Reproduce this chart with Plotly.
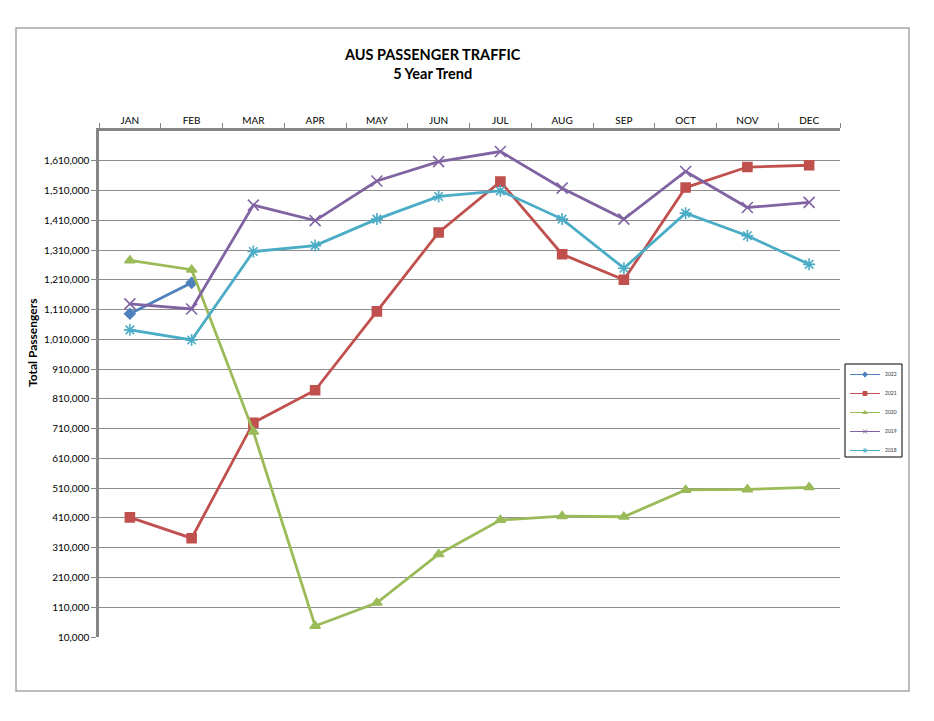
import plotly.graph_objects as go

# data
months = ["JAN", "FEB", "MAR", "APR", "MAY", "JUN",
          "JUL", "AUG", "SEP", "OCT", "NOV", "DEC"]

y2022 = [1096000, 1200000]
y2021 = [412000, 342000, 730000, 839000, 1104000, 1369000,
         1540000, 1296000, 1210000, 1520000, 1589000, 1595000]
y2020 = [1275000, 1244000, 700000, 47000, 125000, 288000,
         403000, 416000, 414000, 504000, 506000, 513000]
y2019 = [1129000, 1112000, 1461000, 1409000, 1542000, 1607000,
         1641000, 1518000, 1414000, 1574000, 1453000, 1470000]
y2018 = [1042000, 1008000, 1305000, 1325000, 1414000, 1490000,
         1509000, 1414000, 1249000, 1434000, 1358000, 1262000]

ytick_vals = list(range(10000, 1610001, 100000))

FONT = "Lato"

series = [
    ("2022", y2022, "#4F81BD", "diamond", 8),
    ("2021", y2021, "#C0504D", "square", 9),
    ("2020", y2020, "#9BBB59", "triangle-up", 9),
    ("2019", y2019, "#8064A2", "x-thin-open", 11),
    ("2018", y2018, "#4BACC6", "asterisk-open", 10),
]

fig = go.Figure()
for name, vals, col, sym, sz in series:
    fig.add_trace(go.Scatter(
        x=months[:len(vals)], y=vals, name=name,
        mode="lines+markers",
        line=dict(color=col, width=2.8),
        marker=dict(symbol=sym, size=sz, color=col,
                    line=dict(color=col, width=1.6)),
        showlegend=False,
    ))
    # small legend-only sample, like the tiny Excel legend
    fig.add_trace(go.Scatter(
        x=[None], y=[None], name=name, mode="lines+markers",
        line=dict(color=col, width=1),
        marker=dict(symbol=sym, size=4, color=col,
                    line=dict(color=col, width=1)),
        legendgroup=name,
    ))

# page body has an 8px margin, so shift everything by it
OFF = 8
W, H = 934 - 2 * OFF, 721 - 2 * OFF
L, R, T, B = 99 - OFF, 840 - OFF, 131 - OFF, 637 - OFF
pw, ph = R - L, B - T


def px(x):
    return (x - OFF - L) / pw


def py(y):
    return (B - (y - OFF)) / ph


fig.update_layout(
    width=W, height=H,
    margin=dict(l=L, r=W - R, t=T, b=H - B),
    paper_bgcolor="white", plot_bgcolor="white",
    font=dict(family=FONT, size=10, color="black"),
    showlegend=True,
    legend=dict(
        x=px(845), y=py(360), xanchor="left", yanchor="top",
        bgcolor="rgba(0,0,0,0)", borderwidth=0,
        font=dict(size=5, color="#333"),
        traceorder="grouped", tracegroupgap=0,
        itemwidth=30,
    ),
    xaxis=dict(
        side="top", type="category",
        showgrid=False, zeroline=False,
        showline=True, linecolor="#868686", linewidth=2.5,
        ticks="outside", tickson="boundaries", ticklen=5,
        tickcolor="#868686",
        tickfont=dict(family=FONT, size=10),
        range=[-0.5, 11.5],
    ),
    yaxis=dict(
        range=[10000, 1710000],
        tickvals=ytick_vals,
        ticktext=[f"{v:,}" for v in ytick_vals],
        showgrid=True, gridcolor="#8c8c8c", gridwidth=1,
        zeroline=False,
        showline=True, linecolor="#868686", linewidth=2.5,
        ticks="outside", ticklen=5, tickcolor="#868686",
        tickfont=dict(family=FONT, size=10),
    ),
    annotations=[
        dict(text="<b>AUS PASSENGER TRAFFIC</b><br><b>5 Year Trend</b>",
             xref="paper", yref="paper", x=px(432), y=py(64),
             xanchor="center", yanchor="middle", showarrow=False,
             font=dict(family=FONT, size=14.5, color="black")),
        dict(text="<b>Total Passengers</b>",
             xref="paper", yref="paper", x=px(32), y=py(343),
             xanchor="center", yanchor="middle", showarrow=False,
             textangle=-90,
             font=dict(family=FONT, size=12, color="black")),
    ],
    shapes=[
        # outer chart frame
        dict(type="rect", xref="paper", yref="paper",
             x0=px(16), x1=px(909), y0=py(691), y1=py(28),
             line=dict(color="#a6a6a6", width=1.5), layer="below"),
        # legend box
        dict(type="rect", xref="paper", yref="paper",
             x0=px(845), x1=px(902), y0=py(457), y1=py(364),
             line=dict(color="black", width=1), layer="above"),
    ],
)

fig.write_html("out.html")
